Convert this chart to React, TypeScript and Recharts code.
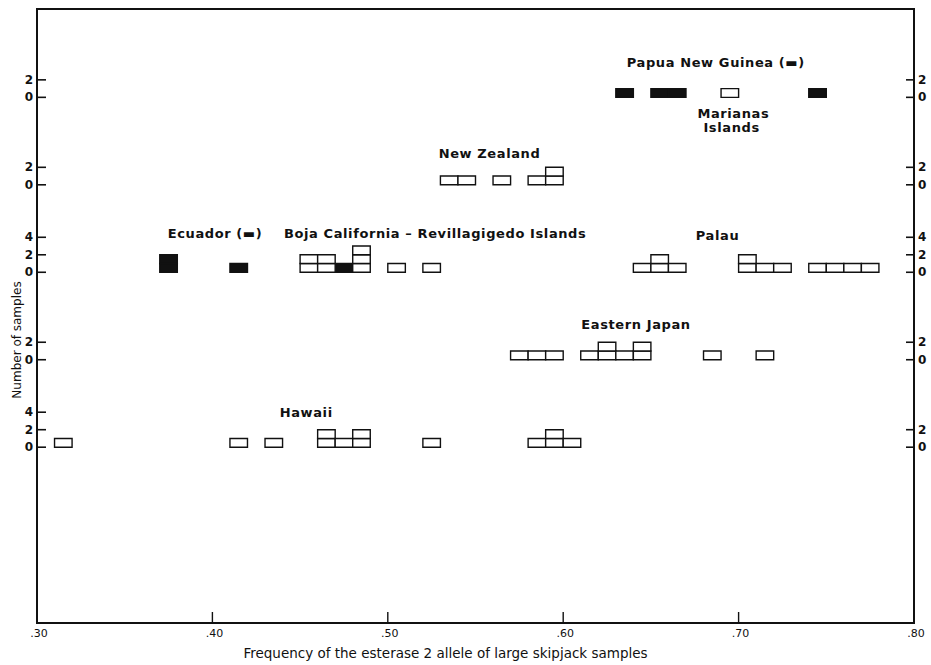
import { ComposedChart, ReferenceArea, ReferenceDot, XAxis, YAxis } from 'recharts';

// each entry is the lower edge of a 0.01-wide frequency class and the number of samples in it
const papuaBins = [0.63, 0.65, 0.66, 0.74];
const papuaCounts = [1, 1, 1, 1];
const marianasBins = [0.69];
const marianasCounts = [1];
const newZealandBins = [0.53, 0.54, 0.56, 0.58, 0.59];
const newZealandCounts = [1, 1, 1, 1, 2];
const ecuadorBins = [0.37, 0.41, 0.47];
const ecuadorCounts = [2, 1, 1];
const bajaBins = [0.45, 0.46, 0.48, 0.5, 0.52];
const bajaCounts = [2, 2, 3, 1, 1];
const palauBins = [0.64, 0.65, 0.66, 0.7, 0.71, 0.72, 0.74, 0.75, 0.76, 0.77];
const palauCounts = [1, 2, 1, 2, 1, 1, 1, 1, 1, 1];
const easternJapanBins = [0.57, 0.58, 0.59, 0.61, 0.62, 0.63, 0.64, 0.68, 0.71];
const easternJapanCounts = [1, 1, 1, 1, 2, 1, 2, 1, 1];
const hawaiiBins = [0.31, 0.41, 0.43, 0.46, 0.47, 0.48, 0.52, 0.58, 0.59, 0.6];
const hawaiiCounts = [1, 1, 1, 2, 1, 2, 1, 1, 2, 1];

const xTicks = [0.3, 0.4, 0.5, 0.6, 0.7, 0.8];
// y ticks are "row offset + count"; rows sit 10 units apart
const leftTicks = [20, 22, 24, 30, 32, 40, 42, 44, 50, 52, 60, 62];
const rightTicks = [20, 22, 30, 32, 40, 42, 44, 50, 52, 60, 62];

const BIN = 0.01;
const Y_DOMAIN: [number, number] = [-0.1, 70.1];
const FONT = '"DejaVu Sans", sans-serif';
const INK = '#111';

type Box = { key: string; x1: number; x2: number; y1: number; y2: number; filled: boolean };

function stack(id: string, bins: number[], counts: number[], base: number, filled: boolean): Box[] {
  const out: Box[] = [];
  bins.forEach((b, i) => {
    for (let k = 0; k < counts[i]; k++) {
      out.push({ key: `${id}-${i}-${k}`, x1: b, x2: b + BIN, y1: base + k, y2: base + k + 1, filled });
    }
  });
  return out;
}

const boxes: Box[] = [
  ...stack('png', papuaBins, papuaCounts, 60, true),
  ...stack('mar', marianasBins, marianasCounts, 60, false),
  ...stack('nz', newZealandBins, newZealandCounts, 50, false),
  ...stack('ecu', ecuadorBins, ecuadorCounts, 40, true),
  ...stack('baja', bajaBins, bajaCounts, 40, false),
  ...stack('palau', palauBins, palauCounts, 40, false),
  ...stack('ej', easternJapanBins, easternJapanCounts, 30, false),
  ...stack('hi', hawaiiBins, hawaiiCounts, 20, false),
];

const TICK_MARGIN = 4;

function YTick(props: any) {
  const { x, y, payload, side } = props;
  const left = side === 'left';
  const ax = left ? x + TICK_MARGIN : x - TICK_MARGIN;
  return (
    <g>
      <line x1={ax} x2={left ? ax + 9 : ax - 8} y1={y} y2={y} stroke={INK} strokeWidth={1.6} />
      <text
        x={x}
        y={y}
        textAnchor={left ? 'end' : 'start'}
        dominantBaseline="central"
        fontSize={12}
        fontWeight="bold"
        fontFamily={FONT}
        fill={INK}
      >
        {payload.value % 10}
      </text>
    </g>
  );
}

const X_TICK_MARGIN = 6;

function XTick(props: any) {
  const { x, y, payload } = props;
  const ay = y - X_TICK_MARGIN;
  const v = payload.value;
  const inner = v > 0.31 && v < 0.79;
  return (
    <g>
      {inner && <line x1={x} x2={x} y1={ay} y2={ay - 11} stroke={INK} strokeWidth={1.4} />}
      <text x={x + 2} y={y} dy="0.71em" textAnchor="middle" fontSize={11} fontFamily={FONT} fill={INK}>
        {v.toFixed(2).replace(/^0/, '')}
      </text>
    </g>
  );
}

function regionLabel(text: string, size = 13) {
  return {
    content: ({ viewBox }: any) => (
      <text
        x={viewBox.x + viewBox.width / 2}
        y={viewBox.y + viewBox.height / 2}
        textAnchor="middle"
        dominantBaseline="central"
        fontSize={size}
        fontWeight="bold"
        fontFamily={FONT}
        fill={INK}
        style={{ letterSpacing: '0.6px' }}
      >
        {text}
      </text>
    ),
  };
}

const labelDot = { r: 0.1, fill: 'none', stroke: 'none', yAxisId: 'left', ifOverflow: 'visible' as const };

export default function App() {
  return (
    <div style={{ position: 'absolute', left: 0, top: 0, width: 931, height: 665, background: '#fff' }}>
      <ComposedChart width={931} height={665} margin={{ top: 9, right: 0, bottom: 0, left: 0 }}>
        <XAxis
          type="number"
          dataKey="x"
          domain={[0.3, 0.8]}
          ticks={xTicks}
          allowDataOverflow
          height={42}
          axisLine={false}
          tickLine={false}
          tickSize={0}
          tickMargin={X_TICK_MARGIN}
          interval={0}
          tick={<XTick />}
          label={{
            value: 'Frequency of the esterase 2 allele of large skipjack samples',
            position: 'insideBottom',
            offset: 7,
            dx: -30,
            fontSize: 13.5,
            fontFamily: FONT,
            fill: INK,
          }}
        />
        <YAxis
          yAxisId="left"
          type="number"
          domain={Y_DOMAIN}
          ticks={leftTicks}
          allowDataOverflow
          width={37}
          axisLine={false}
          tickLine={false}
          tickSize={0}
          tickMargin={TICK_MARGIN}
          interval={0}
          tick={(p: any) => <YTick {...p} side="left" />}
          label={{
            value: 'Number of samples',
            angle: -90,
            position: 'center',
            dx: -2,
            dy: 24,
            fontSize: 12,
            fontFamily: FONT,
            fill: INK,
          }}
        />
        <YAxis
          yAxisId="right"
          orientation="right"
          type="number"
          domain={Y_DOMAIN}
          ticks={rightTicks}
          allowDataOverflow
          width={17}
          axisLine={false}
          tickLine={false}
          tickSize={0}
          tickMargin={TICK_MARGIN}
          interval={0}
          tick={(p: any) => <YTick {...p} side="right" />}
        />

        <ReferenceArea
          yAxisId="left"
          x1={0.3}
          x2={0.8}
          y1={Y_DOMAIN[0]}
          y2={Y_DOMAIN[1]}
          fill="none"
          stroke={INK}
          strokeWidth={2}
          ifOverflow="visible"
        />

        {boxes.map((b) => (
          <ReferenceArea
            key={b.key}
            yAxisId="left"
            x1={b.x1}
            x2={b.x2}
            y1={b.y1}
            y2={b.y2}
            fill={b.filled ? INK : '#fff'}
            fillOpacity={1}
            stroke={INK}
            strokeWidth={1.4}
          />
        ))}

        <ReferenceDot {...labelDot} x={0.687} y={64} label={regionLabel('Papua New Guinea (▬)')} />
        <ReferenceDot {...labelDot} x={0.697} y={58.1} label={regionLabel('Marianas')} />
        <ReferenceDot {...labelDot} x={0.696} y={56.5} label={regionLabel('Islands')} />
        <ReferenceDot {...labelDot} x={0.558} y={53.6} label={regionLabel('New Zealand')} />
        <ReferenceDot {...labelDot} x={0.4015} y={44.4} label={regionLabel('Ecuador (▬)')} />
        <ReferenceDot
          {...labelDot}
          x={0.527}
          y={44.4}
          label={regionLabel('Boja California – Revillagigedo Islands')}
        />
        <ReferenceDot {...labelDot} x={0.688} y={44.2} label={regionLabel('Palau')} />
        <ReferenceDot {...labelDot} x={0.6415} y={34} label={regionLabel('Eastern Japan')} />
        <ReferenceDot {...labelDot} x={0.4535} y={24} label={regionLabel('Hawaii')} />
      </ComposedChart>
    </div>
  );
}
